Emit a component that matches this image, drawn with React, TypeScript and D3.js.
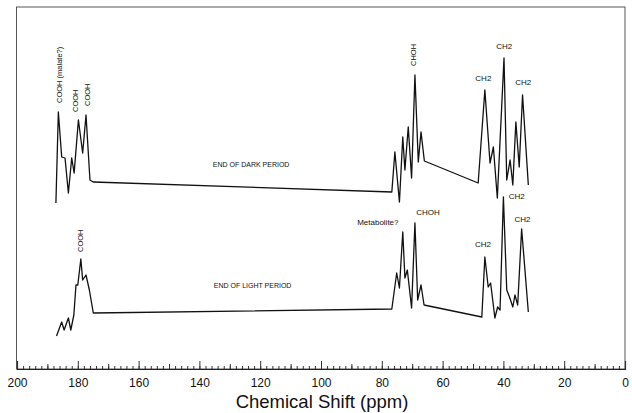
import * as d3 from 'd3';
import { useRef, useEffect } from 'react';

// chemical shift (ppm) and intensity (arbitrary units)
const darkPpm = [187.2, 186.4, 185.3, 184.2, 183.1, 182.0, 181.2, 179.8, 178.4, 177.3, 176.0, 174.9,
  76.7, 75.7, 74.2, 73.1, 72.4, 71.3, 70.2, 69.1, 68.0, 67.1, 66.0,
  48.3, 46.1, 44.4, 43.3, 42.0, 39.8, 38.9, 37.8, 36.9, 35.9, 34.8, 33.7, 31.8];
const darkIntensity = [166, 257, 212, 211, 176, 211, 196, 249, 216, 254, 189, 187,
  177, 217, 167, 232, 199, 242, 191, 294, 207, 237, 208,
  186, 279, 206, 222, 171, 311, 189, 209, 184, 247, 202, 274, 184];

const lightPpm = [187.0, 185.3, 184.5, 183.1, 182.3, 181.3, 180.6, 180.0, 179.0, 178.4, 177.3, 176.2, 174.9,
  76.7, 75.1, 74.2, 73.1, 72.4, 71.6, 70.2, 69.1, 68.2, 67.1, 66.1,
  47.1, 46.1, 45.0, 44.2, 42.8, 41.9, 41.1, 40.0, 38.9, 38.0, 36.9, 36.2, 35.3, 34.0, 31.8];
const lightIntensity = [33, 47, 39, 51, 39, 54, 84, 84, 110, 89, 94, 79, 56,
  60, 96, 81, 137, 91, 99, 61, 146, 69, 84, 64,
  52, 112, 82, 86, 51, 62, 59, 172, 79, 72, 62, 74, 64, 140, 57];

// peak assignments: text, ppm, intensity, vertical?
const labelText = ['COOH (malate?)', 'COOH', 'COOH', 'CHOH', 'CH2', 'CH2', 'CH2', 'END OF DARK PERIOD',
  'COOH', 'Metabolite?', 'CHOH', 'CH2', 'CH2', 'CH2', 'END OF LIGHT PERIOD'];
const labelPpm = [185.9, 180.7, 176.7, 69.4, 46.6, 39.7, 33.5, 123.0,
  179.1, 81.3, 64.8, 46.7, 35.6, 33.7, 122.5];
const labelIntensity = [266, 257, 263, 303, 290, 322, 286, 204,
  117, 146, 156, 124, 172, 149, 83];
const labelVertical = [true, true, true, true, false, false, false, false,
  true, false, false, false, false, false, false];

const majorTicks = [200, 180, 160, 140, 120, 100, 80, 60, 40, 20, 0];

export default function App() {
  const axisRef = useRef(null);

  const width = 632;
  const height = 413;
  const left = 17, right = 625, top = 7, bottom = 369;

  const x = d3.scaleLinear().domain([200, 0]).range([left, right]);
  const y = d3.scaleLinear().domain([0, bottom - top]).range([bottom, top]);

  const line = d3.line<[number, number]>()
    .x((d) => x(d[0]))
    .y((d) => y(d[1]));

  const dark = d3.zip(darkPpm, darkIntensity) as [number, number][];
  const light = d3.zip(lightPpm, lightIntensity) as [number, number][];

  useEffect(() => {
    const g = d3.select(axisRef.current);
    g.selectAll('*').remove();

    // minor ticks every 2 ppm
    g.append('g')
      .call(d3.axisBottom(x).tickValues(d3.range(0, 201, 2)).tickSize(-3).tickFormat(() => ''))
      .call((s) => s.select('.domain').remove());
    // mid ticks every 10 ppm
    g.append('g')
      .call(d3.axisBottom(x).tickValues(d3.range(10, 200, 20)).tickSize(-5).tickFormat(() => ''))
      .call((s) => s.select('.domain').remove());
    // major ticks with labels
    g.append('g')
      .call(d3.axisBottom(x).tickValues(majorTicks).tickSize(-8).tickPadding(9).tickFormat(d3.format('d')))
      .call((s) => s.select('.domain').attr('stroke', '#222').attr('stroke-width', 1.2))
      .call((s) => s.selectAll('text')
        .attr('font-size', 12)
        .attr('font-family', 'Liberation Sans, Arial, sans-serif')
        .attr('fill', '#111'));
    g.selectAll('.tick line').attr('stroke', '#333');
  }, []);

  return (
    <svg width={width} height={height} style={{ position: 'absolute', left: 0, top: 0, background: '#fff' }}
      fontFamily="Liberation Sans, Arial, sans-serif">
      <rect x={left - 0.5} y={top} width={right - left + 0.5} height={bottom - top}
        fill="none" stroke="#555" strokeWidth={1} />
      <g ref={axisRef} transform={`translate(0,${bottom})`} />

      <path d={line(dark) ?? ''} fill="none" stroke="#111" strokeWidth={1.3} strokeLinejoin="round" />
      <path d={line(light) ?? ''} fill="none" stroke="#111" strokeWidth={1.3} strokeLinejoin="round" />

      {labelText.map((t, i) => {
        const px = x(labelPpm[i]);
        const py = y(labelIntensity[i]);
        const big = t.startsWith('END');
        return labelVertical[i] ? (
          <text key={i} transform={`translate(${px},${py}) rotate(-90)`} fontSize={7.5}
            dominantBaseline="middle" fill="#111">{t}</text>
        ) : (
          <text key={i} x={px} y={py} fontSize={big ? 7 : 8} textAnchor="middle"
            dominantBaseline="middle" fill="#111">{t}</text>
        );
      })}

      <text x={322} y={408} textAnchor="middle" fontSize={18.5} fill="#111">Chemical Shift (ppm)</text>
    </svg>
  );
}
